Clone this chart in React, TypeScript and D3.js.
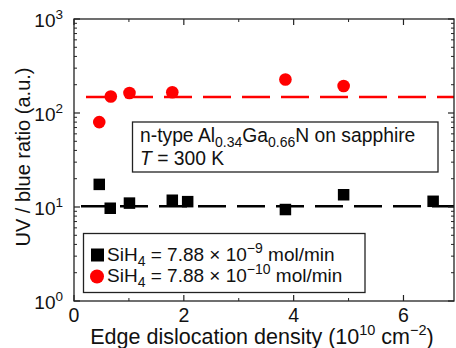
import React from "react";
import * as d3 from "d3";

// black squares: SiH4 = 7.88e-9 mol/min
const HIGH_X = [0.46, 0.66, 1.01, 1.79, 2.07, 3.85, 4.91, 6.54];
const HIGH_Y = [17.4, 9.7, 11.0, 11.8, 11.4, 9.4, 13.5, 11.5];
const HIGH_LEVEL = 10.2;

// red circles: SiH4 = 7.88e-10 mol/min
const LOW_X = [0.46, 0.67, 1.01, 1.79, 3.85, 4.91];
const LOW_Y = [80, 150, 163, 166, 227, 194];
const LOW_LEVEL = 148;

const X_TICKS = [0, 2, 4, 6];
const X_MINOR = [1, 3, 5];
const Y_DECADES = [0, 1, 2, 3];

const W = 456;
const H = 348;
const margin = { top: 19, right: 2, bottom: 47, left: 74 };
const FONT = "'Liberation Sans', Arial, sans-serif";

export default function App() {
  const x = d3.scaleLinear().domain([0, 6.92]).range([margin.left, W - margin.right]);
  const y = d3.scaleLog().domain([1, 1000]).range([H - margin.bottom, margin.top]);
  const [x0, x1] = x.range();
  const [y0, y1] = y.range();

  const yMinor: number[] = [];
  for (let k = 0; k < 3; k++) {
    for (let m = 2; m <= 9; m++) yMinor.push(m * Math.pow(10, k));
  }

  const high = HIGH_X.map((v, i) => ({ x: v, y: HIGH_Y[i] }));
  const low = LOW_X.map((v, i) => ({ x: v, y: LOW_Y[i] }));
  const sq = 11.5;

  return (
    <svg
      width={W}
      height={H}
      style={{ position: "absolute", left: 0, top: 0, background: "#fff" }}
      fontFamily={FONT}
    >
      {/* dashed reference levels */}
      <line
        x1={86}
        x2={x1}
        y1={y(LOW_LEVEL)}
        y2={y(LOW_LEVEL)}
        stroke="#ff0000"
        strokeWidth={2.5}
        strokeDasharray="28,11"
      />
      <line
        x1={81}
        x2={x1}
        y1={y(HIGH_LEVEL)}
        y2={y(HIGH_LEVEL)}
        stroke="#000"
        strokeWidth={2.5}
        strokeDasharray="28,11"
      />

      {/* points */}
      {low.map((d, i) => (
        <circle key={"c" + i} cx={x(d.x)} cy={y(d.y)} r={6.3} fill="#ff0000" />
      ))}
      {high.map((d, i) => (
        <rect
          key={"s" + i}
          x={x(d.x) - sq / 2}
          y={y(d.y) - sq / 2}
          width={sq}
          height={sq}
          fill="#000"
        />
      ))}

      {/* frame */}
      <rect
        x={x0}
        y={y1}
        width={x1 - x0}
        height={y0 - y1}
        fill="none"
        stroke="#222"
        strokeWidth={1.3}
      />

      {/* x ticks */}
      {X_TICKS.map((t) => (
        <g key={"xt" + t}>
          <line x1={x(t)} x2={x(t)} y1={y0} y2={y0 - 6} stroke="#222" strokeWidth={1.2} />
          <line x1={x(t)} x2={x(t)} y1={y1} y2={y1 + 6} stroke="#222" strokeWidth={1.2} />
          <text x={x(t)} y={y0 + 21} textAnchor="middle" fontSize={19.5} fill="#111">
            {t}
          </text>
        </g>
      ))}
      {X_MINOR.map((t) => (
        <g key={"xm" + t}>
          <line x1={x(t)} x2={x(t)} y1={y0} y2={y0 - 3} stroke="#222" strokeWidth={1} />
          <line x1={x(t)} x2={x(t)} y1={y1} y2={y1 + 3} stroke="#222" strokeWidth={1} />
        </g>
      ))}

      {/* y ticks */}
      {Y_DECADES.map((k) => {
        const v = Math.pow(10, k);
        return (
          <g key={"yt" + k}>
            <line x1={x0} x2={x0 + 6} y1={y(v)} y2={y(v)} stroke="#222" strokeWidth={1.2} />
            <line x1={x1} x2={x1 - 6} y1={y(v)} y2={y(v)} stroke="#222" strokeWidth={1.2} />
            <text x={x0 - 11} y={y(v) + 8} textAnchor="end" fontSize={19} fill="#111">
              10
              <tspan fontSize={13.5} dy={-8}>
                {k}
              </tspan>
            </text>
          </g>
        );
      })}
      {yMinor.map((v, i) => (
        <g key={"ym" + i}>
          <line x1={x0} x2={x0 + 3} y1={y(v)} y2={y(v)} stroke="#222" strokeWidth={1} />
          <line x1={x1} x2={x1 - 3} y1={y(v)} y2={y(v)} stroke="#222" strokeWidth={1} />
        </g>
      ))}

      {/* axis titles */}
      <text x={262} y={344} textAnchor="middle" fontSize={21.5} fill="#111">
        Edge dislocation density (10
        <tspan fontSize={14.5} dy={-9}>10</tspan>
        <tspan dy={9}> cm</tspan>
        <tspan fontSize={14.5} dy={-9}>−2</tspan>
        <tspan dy={9}>)</tspan>
      </text>
      <text
        transform={`translate(30, ${(y0 + y1) / 2 - 3}) rotate(-90)`}
        textAnchor="middle"
        fontSize={20}
        fill="#111"
      >
        UV / blue ratio (a.u.)
      </text>

      {/* sample annotation */}
      <rect x={132.5} y={122} width={305.5} height={50} fill="#fff" stroke="#222" strokeWidth={1.3} />
      <text x={140} y={142} fontSize={19.3} fill="#111">
        n-type Al
        <tspan fontSize={14} dy={5}>0.34</tspan>
        <tspan dy={-5}>Ga</tspan>
        <tspan fontSize={14} dy={5}>0.66</tspan>
        <tspan dy={-5}>N on sapphire</tspan>
      </text>
      <text x={140} y={165} fontSize={19.3} fill="#111">
        <tspan fontStyle="italic">T</tspan> = 300 K
      </text>

      {/* legend */}
      <rect x={83.5} y={233.5} width={281.5} height={59} fill="#fff" stroke="#222" strokeWidth={1.3} />
      <rect x={91} y={248.5} width={13} height={13} fill="#000" />
      <circle cx={97} cy={276.5} r={7} fill="#ff0000" />
      <text x={107} y={261} fontSize={19} fill="#111">
        SiH
        <tspan fontSize={14} dy={5}>4</tspan>
        <tspan dy={-5}> = 7.88 × 10</tspan>
        <tspan fontSize={14} dy={-8}>−9</tspan>
        <tspan dy={8}> mol/min</tspan>
      </text>
      <text x={107} y={282} fontSize={19} fill="#111">
        SiH
        <tspan fontSize={14} dy={5}>4</tspan>
        <tspan dy={-5}> = 7.88 × 10</tspan>
        <tspan fontSize={14} dy={-8}>−10</tspan>
        <tspan dy={8}> mol/min</tspan>
      </text>
    </svg>
  );
}
